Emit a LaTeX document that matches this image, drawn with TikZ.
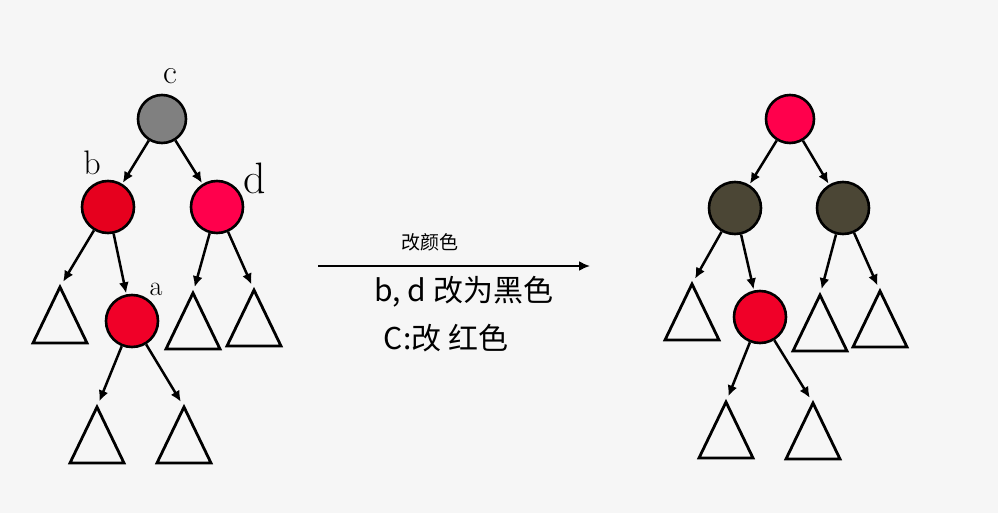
\documentclass[tikz,border=0pt]{standalone}
\usepackage{fontspec}
\newfontfamily\cjk{Noto Sans CJK SC}
\usetikzlibrary{arrows.meta}
\usepackage{xcolor}
\definecolor{bgcol}{HTML}{F6F6F6}
\definecolor{nodegray}{HTML}{808080}
\definecolor{nodered}{HTML}{F00028}
\definecolor{nodedeep}{HTML}{E6001E}
\definecolor{nodepink}{HTML}{FF004C}
\definecolor{nodedark}{HTML}{4B4635}
\tikzset{
  rbnode/.style={circle, draw=black, line width=2.6pt, inner sep=0pt, minimum size=#1},
  rbnode/.default=52pt,
  edge/.style={-{Latex[length=11pt,width=10pt]}, line width=2.5pt, shorten >=1pt},
  leafedge/.style={edge, shorten >=6pt},
  tri/.style={line width=2.8pt, line join=miter},
  hand/.style={font=\fontsize{34}{36}\selectfont},
}

\begin{document}
\begin{tikzpicture}[x=1pt, y=-1pt]
  \fill[bgcol] (0,0) rectangle (998,513);
  \useasboundingbox (0,0) rectangle (998,513);
  % before
  \node[rbnode=48pt, fill=nodegray] (c) at (162,119) {};
  \node[rbnode, fill=nodedeep] (b) at (108,207) {};
  \node[rbnode, fill=nodepink] (d) at (217,207) {};
  \node[rbnode, fill=nodered] (a) at (132,321) {};
  \node[hand] (lc) at (170,76) {c};
  \node[hand] (lb) at (92,163) {b};
  \node[hand, font=\fontsize{44}{46}\selectfont] (ld) at (255,178) {d};
  \node[hand, font=\fontsize{28}{30}\selectfont] (la) at (156,289) {a};
  \coordinate (tb) at (60,287);
  \coordinate (td1) at (193,293);
  \coordinate (td2) at (254,290);
  \coordinate (ta1) at (97,407);
  \coordinate (ta2) at (184,407);
  \draw[edge] (c) -- (b);
  \draw[edge] (c) -- (d);
  \draw[leafedge] (b) -- (tb);
  \draw[edge] (b) -- (a);
  \draw[leafedge] (d) -- (td1);
  \draw[leafedge] (d) -- (td2);
  \draw[leafedge] (a) -- (ta1);
  \draw[leafedge] (a) -- (ta2);
  % after
  \node[rbnode=48pt, fill=nodepink] (r) at (790,119) {};
  \node[rbnode, fill=nodedark] (rb) at (735,208) {};
  \node[rbnode, fill=nodedark] (rd) at (843,208) {};
  \node[rbnode, fill=nodered] (ra) at (760,317) {};
  \coordinate (rtb) at (692,284);
  \coordinate (rtd1) at (820,295);
  \coordinate (rtd2) at (880,291);
  \coordinate (rta1) at (726,402);
  \coordinate (rta2) at (813,403);
  \draw[edge] (r) -- (rb);
  \draw[edge] (r) -- (rd);
  \draw[leafedge] (rb) -- (rtb);
  \draw[edge] (rb) -- (ra);
  \draw[leafedge] (rd) -- (rtd1);
  \draw[leafedge] (rd) -- (rtd2);
  \draw[leafedge] (ra) -- (rta1);
  \draw[leafedge] (ra) -- (rta2);
  \foreach \p in {tb,td1,td2,ta1,ta2,rtb,rtd1,rtd2,rta1,rta2}
    \draw[tri] (\p) -- ++(-27,56) -- ++(54,0) -- cycle;
  % recolour step
  \coordinate (m1) at (318,266);
  \coordinate (m2) at (590,266);
  \draw[-{Latex[length=11pt,width=10pt]}, line width=2pt] (m1) -- (m2);
  \node[font=\cjk\fontsize{19}{21}\selectfont] (step) at (430,242) {改颜色};
  \node[font=\cjk\fontsize{30}{32}\selectfont] (bd) at (464,292) {b, d 改为黑色};
  \node[font=\cjk\fontsize{30}{32}\selectfont] (cr) at (446,338) {C:改 红色};
\end{tikzpicture}
\end{document}
